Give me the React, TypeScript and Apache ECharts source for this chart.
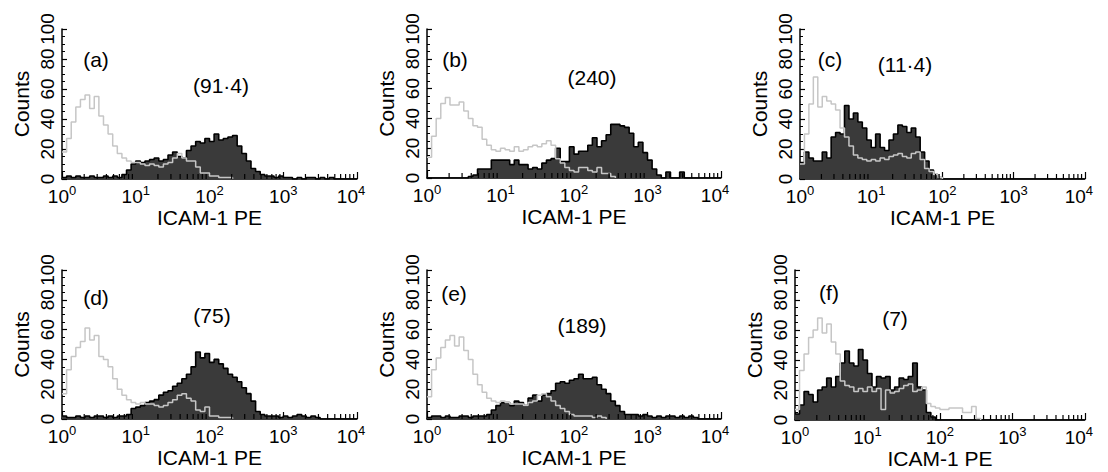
import React, { useEffect, useRef } from "react";
import * as echarts from "echarts";

// 16 channels per decade, 4 decades (10^0 .. 10^4) -> 64 channels
const CHANNELS_PER_DECADE = 16;
const CHANNELS = 64;
const DECADE_LABELS = ["0", "1", "2", "3", "4"];
const Y_MAX = 100;

const panelLetters = ["(a)", "(b)", "(c)", "(d)", "(e)", "(f)"];
const panelMfi = ["(91·4)", "(240)", "(11·4)", "(75)", "(189)", "(7)"];

// ---- counts per channel (filled = ICAM-1 PE stained, ctrl = isotype control) ----
const aFilled = [1, 2, 1, 2, 1, 1, 2, 1, 1, 2, 1, 2, 1, 3, 6, 10, 12, 11, 12, 13, 14, 12, 13, 16, 18, 15, 14, 19, 22, 25, 24, 27, 25, 30, 26, 27, 28, 29, 22, 17, 12, 7, 5, 3, 2, 2, 1, 2, 1, 1, 0, 1, 0, 1, 1, 0, 1, 0, 1];
const aCtrl = [18, 27, 38, 48, 53, 56, 47, 55, 42, 36, 30, 22, 17, 14, 12, 11, 11, 10, 9, 10, 9, 8, 10, 11, 14, 17, 14, 12, 12, 8, 4, 4, 2, 2, 1, 1, 1];

const bFilled = [0, 0, 0, 0, 0, 0, 0, 0, 0, 1, 2, 6, 6, 6, 12, 12, 12, 12, 9, 12, 9, 9, 6, 7, 6, 10, 12, 13, 20, 11, 11, 21, 16, 18, 18, 22, 27, 21, 25, 29, 36, 36, 35, 34, 30, 21, 24, 17, 12, 6, 2, 0, 4, 0, 0, 4];
const bCtrl = [14, 28, 40, 50, 54, 49, 49, 51, 45, 40, 35, 34, 26, 22, 19, 18, 20, 19, 18, 21, 18, 19, 21, 22, 21, 23, 25, 22, 13, 10, 7, 5, 4, 7, 7, 5, 4, 7, 3, 3, 1];

const cFilled = [11, 18, 14, 12, 12, 18, 14, 28, 31, 30, 49, 40, 44, 38, 34, 26, 21, 30, 21, 19, 26, 30, 36, 35, 31, 34, 28, 18, 12, 6, 3, 1];
const cCtrl = [10, 30, 50, 68, 48, 55, 52, 50, 46, 34, 28, 22, 16, 14, 13, 12, 13, 12, 14, 13, 15, 16, 17, 15, 14, 17, 18, 13, 7, 5, 3, 1];

const dFilled = [2, 1, 1, 2, 1, 2, 1, 2, 2, 1, 2, 1, 2, 2, 3, 7, 8, 9, 11, 12, 13, 16, 18, 19, 22, 24, 27, 30, 35, 45, 41, 44, 38, 40, 37, 34, 30, 28, 25, 21, 17, 12, 5, 3, 2, 2, 2, 1, 2, 1, 2, 3, 2, 1, 2, 1];
const dCtrl = [17, 33, 42, 48, 52, 61, 53, 56, 42, 40, 35, 27, 20, 16, 13, 11, 10, 11, 10, 10, 9, 8, 9, 11, 13, 16, 17, 14, 12, 6, 5, 8, 2, 2, 1, 1, 1];

const eFilled = [1, 2, 2, 1, 2, 1, 1, 2, 2, 1, 2, 2, 2, 3, 6, 9, 11, 11, 9, 12, 11, 9, 14, 16, 12, 16, 17, 19, 24, 25, 24, 26, 27, 30, 27, 27, 28, 23, 20, 17, 12, 9, 5, 3, 3, 3, 2, 3, 2, 1, 2, 1, 2, 2, 1, 2, 1, 2, 1];
const eCtrl = [15, 33, 41, 48, 53, 56, 49, 55, 46, 40, 30, 23, 18, 14, 12, 11, 12, 11, 10, 10, 10, 9, 11, 12, 16, 17, 15, 12, 9, 7, 5, 3, 2, 2, 2, 2, 1, 2, 1];

const fFilled = [4, 10, 19, 17, 12, 20, 22, 28, 22, 29, 38, 46, 38, 36, 47, 40, 31, 22, 29, 28, 29, 20, 22, 28, 27, 29, 38, 22, 20, 5, 2];
const fCtrl = [7, 33, 44, 55, 60, 68, 58, 64, 52, 44, 26, 23, 22, 19, 21, 19, 22, 19, 21, 7, 20, 18, 19, 21, 23, 24, 19, 20, 22, 11, 9, 8, 7, 7, 8, 8, 8, 5, 5, 9, 1];

const filledSets = [aFilled, bFilled, cFilled, dFilled, eFilled, fFilled];
const ctrlSets = [aCtrl, bCtrl, cCtrl, dCtrl, eCtrl, fCtrl];

// ---- layout (pixels) ----
const GRIDS = [
  { left: 62, top: 29, width: 295, height: 150 },
  { left: 427, top: 29, width: 294, height: 149 },
  { left: 800, top: 29, width: 293, height: 150 },
  { left: 62, top: 270, width: 295, height: 149 },
  { left: 427, top: 270, width: 294, height: 149 },
  { left: 795, top: 270, width: 294, height: 150 },
];
const LETTER_POS = [
  [96, 59], [455, 59], [830, 59], [96, 297], [454, 293], [829, 292],
];
const MFI_POS = [
  [221, 85], [592, 77], [905, 64], [212, 315], [582, 325], [895, 318],
];

const FONT = "'Liberation Sans', Arial, Helvetica, sans-serif";
const FILL = "#3a3a3a";
const CTRL = "#c6c6c6";

function stepData(counts: number[], closeToZero: boolean) {
  const pts: number[][] = counts.map((c, i) => [i, c]);
  const last = counts.length;
  pts.push([last, 0]);
  if (closeToZero) pts.push([CHANNELS, 0]);
  return pts;
}

// positions of the log minor ticks (2..9 in each decade), in channel units
const minorTickChannels: number[][] = [];
for (let d = 0; d < 4; d++) {
  for (let k = 2; k <= 9; k++) {
    minorTickChannels.push([CHANNELS_PER_DECADE * (d + Math.log10(k)), 0]);
  }
}

export default function App() {
  const ref = useRef<HTMLDivElement>(null);
  useEffect(() => {
    if (!ref.current) return;
    const chart = echarts.init(ref.current, null, { renderer: "svg" });

    const xAxis: any[] = [];
    const yAxis: any[] = [];
    const series: any[] = [];
    const graphic: any[] = [];

    GRIDS.forEach((g, i) => {
      xAxis.push({
        type: "value",
        gridIndex: i,
        min: 0,
        max: CHANNELS,
        interval: CHANNELS_PER_DECADE,
        name: "ICAM-1 PE",
        nameLocation: "middle",
        nameGap: 26,
        nameTextStyle: { fontSize: 21, color: "#000", fontFamily: FONT },
        axisLine: { show: true, lineStyle: { color: "#000", width: 1.5 } },
        axisTick: { show: true, inside: true, length: 7, lineStyle: { color: "#000", width: 1.2 } },
        splitLine: { show: false },
        axisLabel: {
          margin: 5,
          color: "#000",
          fontFamily: FONT,
          formatter: (v: number) => {
            const idx = Math.round(v / CHANNELS_PER_DECADE);
            const e = DECADE_LABELS[idx];
            return idx === DECADE_LABELS.length - 1 ? `{b|10}{sl|${e}}` : `{b|10}{s|${e}}`;
          },
          rich: {
            b: { fontSize: 19, fontFamily: FONT, color: "#000", lineHeight: 22, verticalAlign: "bottom" },
            s: { fontSize: 13, fontFamily: FONT, color: "#000", lineHeight: 22, verticalAlign: "top", padding: [0, 0, 8, 0] },
            sl: { fontSize: 13, fontFamily: FONT, color: "#000", lineHeight: 22, verticalAlign: "top", padding: [0, 12, 8, 0] },
          },
        },
      });
      yAxis.push({
        type: "value",
        gridIndex: i,
        min: 0,
        max: Y_MAX,
        interval: 20,
        name: "Counts",
        nameLocation: "middle",
        nameGap: 30,
        nameTextStyle: { fontSize: 21, color: "#000", fontFamily: FONT },
        axisLine: { show: true, lineStyle: { color: "#000", width: 1.5 } },
        axisTick: { show: true, inside: true, length: 5, lineStyle: { color: "#000", width: 1.2 } },
        minorTick: { show: true, splitNumber: 4, length: 3, lineStyle: { color: "#000", width: 1 } },
        splitLine: { show: false },
        axisLabel: {
          rotate: 90,
          margin: 5,
          fontSize: 19,
          color: "#000",
          fontFamily: FONT,
        },
      });
      series.push({
        type: "line",
        xAxisIndex: i,
        yAxisIndex: i,
        step: "end",
        symbol: "none",
        z: 2,
        data: stepData(filledSets[i], true),
        lineStyle: { color: "#000", width: 1.6 },
        areaStyle: { color: FILL, opacity: 1 },
      });
      series.push({
        type: "line",
        xAxisIndex: i,
        yAxisIndex: i,
        step: "end",
        symbol: "none",
        z: 3,
        data: stepData(ctrlSets[i], false),
        lineStyle: { color: CTRL, width: 1.5 },
      });
      series.push({
        type: "custom",
        xAxisIndex: i,
        yAxisIndex: i,
        z: 4,
        silent: true,
        clip: false,
        data: minorTickChannels,
        renderItem: (params: any, api: any) => {
          const p = api.coord([api.value(0), 0]);
          return {
            type: "line",
            shape: { x1: p[0], y1: p[1], x2: p[0], y2: p[1] - 5 },
            style: { stroke: "#000", lineWidth: 1.2 },
          };
        },
      });
      graphic.push({
        type: "text",
        x: LETTER_POS[i][0],
        y: LETTER_POS[i][1],
        style: { text: panelLetters[i], font: `21px ${FONT}`, fill: "#000", align: "center", verticalAlign: "middle" },
      });
      graphic.push({
        type: "text",
        x: MFI_POS[i][0],
        y: MFI_POS[i][1],
        style: { text: panelMfi[i], font: `21px ${FONT}`, fill: "#000", align: "center", verticalAlign: "middle" },
      });
    });

    chart.setOption({
      animation: false,
      backgroundColor: "#fff",
      grid: GRIDS.map((g) => ({ ...g, containLabel: false })),
      xAxis,
      yAxis,
      series,
      graphic,
    });
    return () => chart.dispose();
  }, []);

  return (
    <div
      ref={ref}
      style={{ position: "absolute", left: 0, top: 0, width: 1108, height: 472 }}
    />
  );
}
